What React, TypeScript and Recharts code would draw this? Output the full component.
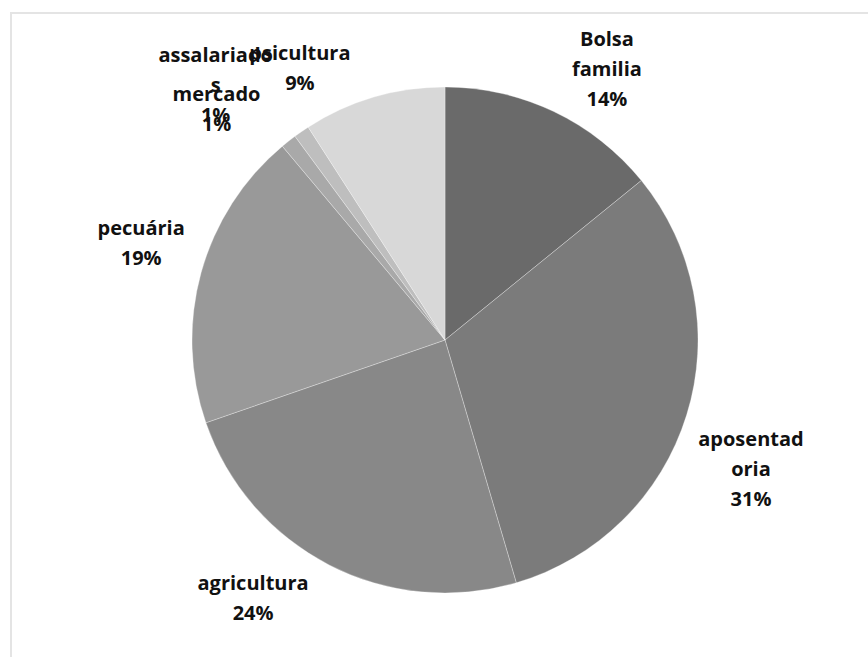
import React from 'react';
import { PieChart, Pie, Cell } from 'recharts';

const categories = ['Bolsa familia', 'aposentadoria', 'agricultura', 'pecuária', 'mercado', 'assalariados', 'psicultura'];
const shares = [14, 31, 24, 19, 1, 1, 9];
// how the labels wrap in the original
const labelLines = [
  ['Bolsa', 'familia'],
  ['aposentad', 'oria'],
  ['agricultura'],
  ['pecuária'],
  ['mercado'],
  ['assalariado', 's'],
  ['psicultura'],
];
const sliceColors = ['#6a6a6a', '#7b7b7b', '#888888', '#999999', '#a9a9a9', '#bebebe', '#d8d8d8'];
// nudges from the default label spot (label blocks were dragged by hand)
const labelNudge = [
  [26, 14],
  [4, 34],
  [-47, -24],
  [1, -14],
  [-33, 17],
  [-50, 4],
  [-56, 30],
];

const data = categories.map((name, i) => ({ name, value: shares[i] }));

const RADIAN = Math.PI / 180;
const LINE_H = 30;

const renderLabel = (props: any) => {
  const { cx, cy, midAngle, outerRadius, index, value } = props;
  const r = outerRadius * 1.25;
  const x = cx + r * Math.cos(-midAngle * RADIAN) + labelNudge[index][0];
  const y = cy + r * Math.sin(-midAngle * RADIAN) + labelNudge[index][1];
  const lines = [...labelLines[index], `${value}%`];
  const top = y - ((lines.length - 1) * LINE_H) / 2;
  return (
    <text
      key={`lbl-${index}`}
      x={x}
      y={top}
      textAnchor="middle"
      dominantBaseline="central"
      fill="#111"
      style={{ fontFamily: '"Open Sans", sans-serif', fontWeight: 700, fontSize: 20 }}
    >
      {lines.map((t, i) => (
        <tspan key={i} x={x} y={top + i * LINE_H}>{t}</tspan>
      ))}
    </text>
  );
};

export default function App() {
  return (
    <div
      style={{
        position: 'absolute',
        left: 10,
        top: 12,
        width: 858,
        height: 645,
        borderTop: '2px solid #e4e4e4',
        borderLeft: '2px solid #e4e4e4',
        background: '#fff',
      }}
    >
      <PieChart width={856} height={643}>
        <Pie
          data={data}
          dataKey="value"
          nameKey="name"
          cx={428}
          cy={321}
          outerRadius={253}
          startAngle={90}
          endAngle={-270}
          stroke="#ffffff"
          strokeWidth={0.6}
          strokeOpacity={0.5}
          labelLine={false}
          label={renderLabel}
          isAnimationActive={false}
        >
          {data.map((d, i) => (
            <Cell key={d.name} fill={sliceColors[i]} />
          ))}
        </Pie>
      </PieChart>
    </div>
  );
}
